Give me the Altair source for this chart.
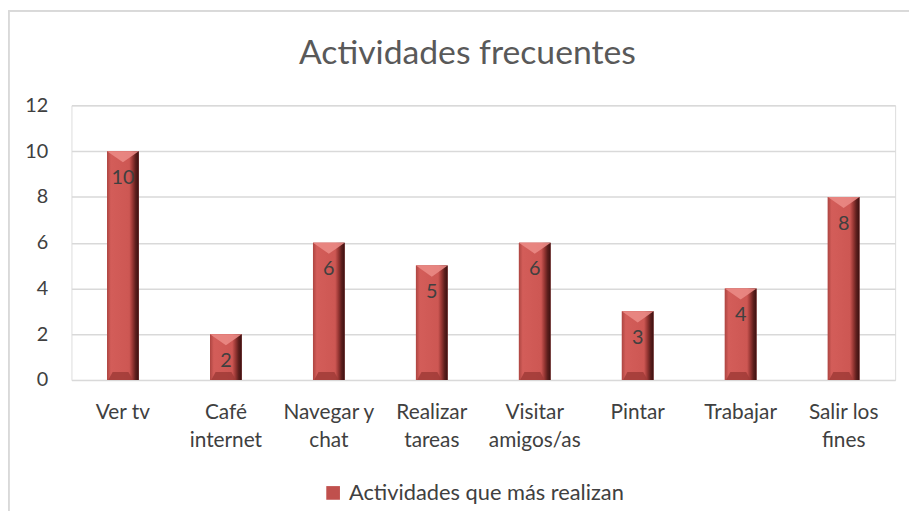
import altair as alt
import pandas as pd

categories = ["Ver tv", "Café\ninternet", "Navegar y\nchat", "Realizar\ntareas",
              "Visitar\namigos/as", "Pintar", "Trabajar", "Salir los\nfines"]
values = [10, 2, 6, 5, 6, 3, 4, 8]
series_name = "Actividades que más realizan"
title_text = "Actividades frecuentes"
y_ticks = [0, 2, 4, 6, 8, 10, 12]

df = pd.DataFrame({"cat": categories, "val": values, "serie": [series_name] * len(values)})

FONT = "Lato"
TXT = "#404040"
GRID = "#d9d9d9"

x_enc = alt.X("cat:N", sort=categories,
              scale=alt.Scale(paddingInner=0, paddingOuter=0),
              axis=alt.Axis(title=None, labelAngle=0, domain=False, ticks=False,
                            labelFont=FONT, labelFontSize=21, labelColor=TXT,
                            labelPadding=22, labelLineHeight=28,
                            labelExpr="split(datum.label, '\\n')"))
x_plain = alt.X("cat:N", sort=categories)
y_enc = alt.Y("val:Q", scale=alt.Scale(domain=[0, 12], nice=False),
              axis=alt.Axis(title=None, values=y_ticks, domain=False, ticks=False,
                            grid=True, gridColor=GRID, gridWidth=1.5,
                            labelFont=FONT, labelFontSize=20, labelColor=TXT,
                            labelPadding=24))

base = alt.Chart(df)

legend_bar = base.mark_bar(size=32).encode(
    x=x_enc, y=y_enc,
    color=alt.Color("serie:N", scale=alt.Scale(range=["#C0504D"]),
                    legend=alt.Legend(title=None, orient="none", legendX=253, legendY=380,
                                      symbolType="square", symbolSize=190,
                                      symbolStrokeWidth=0, labelFont=FONT,
                                      labelFontSize=22, labelColor=TXT, labelOffset=5,
                                      labelLimit=0, padding=0)))

grad = {"gradient": "linear", "x1": 0, "y1": 0, "x2": 1, "y2": 0,
        "stops": [{"offset": 0, "color": "#ad4541"},
                  {"offset": 0.12, "color": "#d35d59"},
                  {"offset": 0.7, "color": "#cd5753"},
                  {"offset": 0.8, "color": "#9a3835"},
                  {"offset": 0.9, "color": "#5e1f1d"},
                  {"offset": 1, "color": "#3a1010"}]}

grad_bar = base.mark_bar(size=32, color=grad).encode(x=x_plain, y="val:Q")

top_bevel = base.mark_point(shape="M -1 0 L 1 0 L 0 0.7 Z", size=1024, filled=True,
                            color="#ea8985", opacity=0.9, strokeWidth=0).encode(x=x_plain, y="val:Q")

bottom_bevel = base.mark_point(shape="M -0.92 0 L 0.62 0 L 0.35 -0.5 L -0.65 -0.5 Z", size=1024,
                               filled=True, color="#9e3a36", opacity=0.8,
                               strokeWidth=0).encode(x=x_plain, y=alt.datum(0))

labels = base.mark_text(font=FONT, fontSize=20, color=TXT, baseline="middle", dy=27).encode(
    x=x_plain, y="val:Q", text="val:Q")

border_left = alt.Chart(df).mark_rule(color=GRID, strokeWidth=1.5).encode(
    x=alt.value(-63.5), y=alt.value(-95.5), y2=alt.value(430))
border_top = alt.Chart(df).mark_rule(color=GRID, strokeWidth=1.5).encode(
    x=alt.value(-63.5), x2=alt.value(850), y=alt.value(-95.5))

chart = alt.layer(legend_bar, grad_bar, top_bevel, bottom_bevel, labels,
                  border_left, border_top).properties(
    width=831, height=277,
    title=alt.TitleParams(title_text, font=FONT, fontSize=34, fontWeight="normal",
                          color="#595959", anchor="middle", dx=-16, offset=-62),
    autosize=alt.AutoSizeParams(type="none"),
    padding={"left": 64, "top": 96, "right": 14, "bottom": 130},
).configure_view(stroke=None).configure(background="white")

chart.save("out.html", embed_options={"renderer": "svg", "actions": False})
